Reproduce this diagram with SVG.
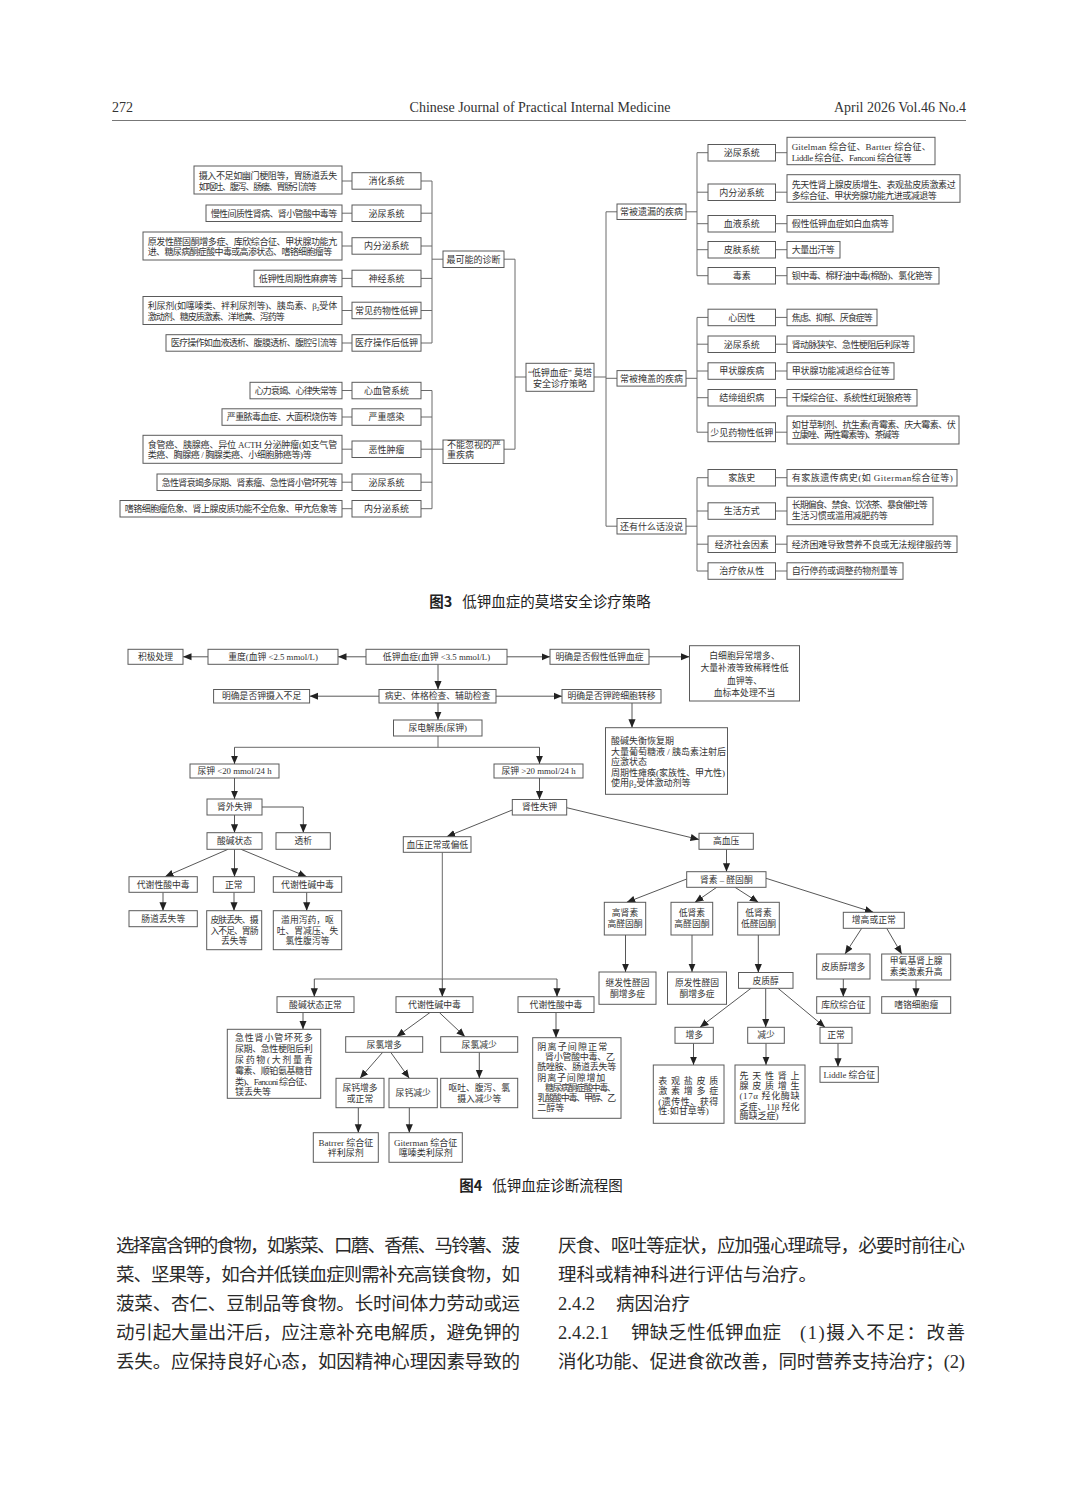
<svg xmlns="http://www.w3.org/2000/svg" width="1080" height="1509" viewBox="0 0 1080 1509">
<defs>
<marker id="ah" viewBox="0 0 10 10" refX="10" refY="5" markerWidth="8.5" markerHeight="8.5" markerUnits="userSpaceOnUse" orient="auto"><path d="M0,0.8 L10,5 L0,9.2 z" fill="#222"/></marker>
<style>
.b{fill:#fff;stroke:#5a5a5a;stroke-width:1}
.t{font-family:"Liberation Serif","Noto Sans CJK SC",serif;font-size:9px;fill:#333}
.s{font-size:8.8px}
.m{text-anchor:middle}
.ln{fill:none;stroke:#6a6a6a;stroke-width:1}
.ar{fill:none;stroke:#444;stroke-width:0.9;marker-end:url(#ah)}
.hd{font-family:"Liberation Serif",serif;font-size:14px;fill:#333}
.cap{font-family:"Noto Sans CJK SC",sans-serif;font-size:14.5px;fill:#222}
.body{font-family:"Liberation Serif","Noto Sans CJK SC",serif;font-size:18.5px;fill:#2a2a2a}
</style>
</defs>
<rect width="1080" height="1509" fill="#fff"/>

<g id="header">
<text class="hd" x="112" y="112">272</text>
<text class="hd m" x="540" y="112" font-size="13.5">Chinese Journal of Practical Internal Medicine</text>
<text class="hd" x="966" y="112" text-anchor="end">April 2026 Vol.46 No.4</text>
<line x1="112" y1="120.5" x2="966" y2="120.5" stroke="#777" stroke-width="1"/>
</g>

<!-- ================= FIGURE 3 ================= -->
<g id="fig3-connectors" class="ln">
<path d="M342,181H352M421,181H432M342,213.2H352M421,213.2H432M342,246H352M421,246H432M342,278.4H352M421,278.4H432M342,310.5H352M421,310.5H432M342,343H352M421,343H432"/>
<path d="M342,390.5H352M421,390.5H432M342,417H352M421,417H432M342,449.2H352M421,449.2H432M342,482.2H352M421,482.2H432M342,508.7H352M421,508.7H432"/>
<path d="M432,181V343M432,259.2H443M504,259.2H515V449.2H504M443,449.2H432M432,390.5V508.7M515,377H526M594,377H606"/>
<path d="M606,211.8V526.2M606,211.8H617M606,378.3H617M606,526.2H617M686,211.8H697M686,378.3H697M686,526.2H697M697,152.7V275.7M697,317.4V432.2M697,477.7V571"/>
<path d="M697,152.7H708M775.5,152.7H787M697,192.2H708M775.5,192.2H787M697,223.7H708M775.5,223.7H787M697,249.7H708M775.5,249.7H787M697,275.7H708M775.5,275.7H787"/>
<path d="M697,317.4H708M775.5,317.4H787M697,344.2H708M775.5,344.2H787M697,371H708M775.5,371H787M697,397.7H708M775.5,397.7H787M697,432.2H708M775.5,432.2H787"/>
<path d="M697,477.7H708M775.5,477.7H787M697,511H708M775.5,511H787M697,544.2H708M775.5,544.2H787M697,571H708M775.5,571H787"/>
</g>

<g id="f3-root"><rect class="b" x="526" y="363.3" width="68" height="28"/><text class="t m" x="560" y="375.8">“低钾血症” 莫塔</text><text class="t m" x="560" y="386.5">安全诊疗策略</text></g>
<g id="f3-likely"><rect class="b" x="443" y="251" width="61" height="16.5"/><text class="t m" x="473.5" y="262.5">最可能的诊断</text></g>
<g id="f3-serious"><rect class="b" x="443" y="440" width="61" height="23.5"/><text class="t" x="447" y="447.8">不能忽视的严</text><text class="t" x="447" y="458">重疾病</text></g>
<g id="f3-missed"><rect class="b" x="617" y="204" width="69" height="15.5"/><text class="t m" x="651.5" y="215">常被遗漏的疾病</text></g>
<g id="f3-masked"><rect class="b" x="617" y="370.6" width="69" height="15.5"/><text class="t m" x="651.5" y="381.5">常被掩盖的疾病</text></g>
<g id="f3-other"><rect class="b" x="617" y="518.5" width="69" height="15.5"/><text class="t m" x="651.5" y="529.5">还有什么话没说</text></g>

<!-- left labels -->
<g id="f3-l1"><rect class="b" x="352" y="172.7" width="69" height="16.5"/><text class="t m" x="386.5" y="184.3">消化系统</text></g>
<g id="f3-l2"><rect class="b" x="352" y="205" width="69" height="16.5"/><text class="t m" x="386.5" y="216.5">泌尿系统</text></g>
<g id="f3-l3"><rect class="b" x="352" y="237.7" width="69" height="16.5"/><text class="t m" x="386.5" y="249.3">内分泌系统</text></g>
<g id="f3-l4"><rect class="b" x="352" y="270.2" width="69" height="16.5"/><text class="t m" x="386.5" y="281.7">神经系统</text></g>
<g id="f3-l5"><rect class="b" x="352" y="302.2" width="69" height="16.5"/><text class="t m" x="386.5" y="313.8">常见药物性低钾</text></g>
<g id="f3-l6"><rect class="b" x="352" y="334.7" width="69" height="16.5"/><text class="t m" x="386.5" y="346.3">医疗操作后低钾</text></g>
<g id="f3-l7"><rect class="b" x="352" y="382.3" width="69" height="16.5"/><text class="t m" x="386.5" y="393.8">心血管系统</text></g>
<g id="f3-l8"><rect class="b" x="352" y="408.8" width="69" height="16.5"/><text class="t m" x="386.5" y="420.3">严重感染</text></g>
<g id="f3-l9"><rect class="b" x="352" y="441" width="69" height="16.5"/><text class="t m" x="386.5" y="452.5">恶性肿瘤</text></g>
<g id="f3-l10"><rect class="b" x="352" y="474" width="69" height="16.5"/><text class="t m" x="386.5" y="485.5">泌尿系统</text></g>
<g id="f3-l11"><rect class="b" x="352" y="500.5" width="69" height="16.5"/><text class="t m" x="386.5" y="512">内分泌系统</text></g>

<!-- left details -->
<g id="f3-d1"><rect class="b" x="194" y="166" width="148" height="28"/><text class="t" x="198.7" y="179.3" textLength="138.5" lengthAdjust="spacing">摄入不足如幽门梗阻等，胃肠道丢失</text><text class="t" x="198.7" y="190" textLength="118" lengthAdjust="spacing">如呕吐、腹泻、肠瘘、胃肠引流等</text></g>
<g id="f3-d2"><rect class="b" x="206" y="205" width="136" height="16.5"/><text class="t" x="210.7" y="216.5" textLength="126.5" lengthAdjust="spacing">慢性间质性肾病、肾小管酸中毒等</text></g>
<g id="f3-d3"><rect class="b" x="143" y="232" width="199" height="28"/><text class="t" x="147.7" y="245" textLength="189.5" lengthAdjust="spacing">原发性醛固酮增多症、库欣综合征、甲状腺功能亢</text><text class="t" x="147.7" y="254.6" textLength="184.5" lengthAdjust="spacing">进、糖尿病酮症酸中毒或高渗状态、嗜铬细胞瘤等</text></g>
<g id="f3-d4"><rect class="b" x="254" y="270.2" width="88" height="16.5"/><text class="t" x="258.7" y="281.7" textLength="78.5" lengthAdjust="spacing">低钾性周期性麻痹等</text></g>
<g id="f3-d5"><rect class="b" x="143" y="296.5" width="199" height="28"/><text class="t" x="147.7" y="309.3" textLength="189.5" lengthAdjust="spacing">利尿剂(如噻嗪类、袢利尿剂等)、胰岛素、β<tspan font-size="6" dy="2">2</tspan><tspan dy="-2">受体</tspan></text><text class="t" x="147.7" y="320" textLength="137" lengthAdjust="spacing">激动剂、糖皮质激素、洋地黄、泻药等</text></g>
<g id="f3-d6"><rect class="b" x="166" y="334.7" width="176" height="16.5"/><text class="t" x="170.7" y="346.3" textLength="166.5" lengthAdjust="spacing">医疗操作如血液透析、腹膜透析、腹腔引流等</text></g>
<g id="f3-d7"><rect class="b" x="250" y="382.3" width="92" height="16.5"/><text class="t" x="254.7" y="393.8" textLength="82.5" lengthAdjust="spacing">心力衰竭、心律失常等</text></g>
<g id="f3-d8"><rect class="b" x="222" y="408.8" width="120" height="16.5"/><text class="t" x="226.7" y="420.3" textLength="110.5" lengthAdjust="spacing">严重脓毒血症、大面积烧伤等</text></g>
<g id="f3-d9"><rect class="b" x="143" y="435.3" width="199" height="28"/><text class="t" x="147.7" y="448.3" textLength="189.5" lengthAdjust="spacing">食管癌、胰腺癌、异位 ACTH 分泌肿瘤(如支气管</text><text class="t" x="147.7" y="458.3" textLength="164" lengthAdjust="spacing">类癌、胸腺癌 / 胸腺类癌、小细胞肺癌等)等</text></g>
<g id="f3-d10"><rect class="b" x="157" y="474" width="185" height="16.5"/><text class="t" x="161.7" y="485.5" textLength="175.5" lengthAdjust="spacing">急性肾衰竭多尿期、肾素瘤、急性肾小管坏死等</text></g>
<g id="f3-d11"><rect class="b" x="120" y="500.5" width="222" height="16.5"/><text class="t" x="124.7" y="512" textLength="212.5" lengthAdjust="spacing">嗜铬细胞瘤危象、肾上腺皮质功能不全危象、甲亢危象等</text></g>

<!-- right labels -->
<g id="f3-ra"><rect class="b" x="708" y="144.5" width="67.5" height="16.5"/><text class="t m" x="741.7" y="156">泌尿系统</text></g>
<g id="f3-rb"><rect class="b" x="708" y="184" width="67.5" height="16.5"/><text class="t m" x="741.7" y="195.5">内分泌系统</text></g>
<g id="f3-rc"><rect class="b" x="708" y="215.5" width="67.5" height="16.5"/><text class="t m" x="741.7" y="227">血液系统</text></g>
<g id="f3-rd"><rect class="b" x="708" y="241.5" width="67.5" height="16.5"/><text class="t m" x="741.7" y="253">皮肤系统</text></g>
<g id="f3-re"><rect class="b" x="708" y="267.5" width="67.5" height="16.5"/><text class="t m" x="741.7" y="279">毒素</text></g>
<g id="f3-rf"><rect class="b" x="708" y="309.2" width="67.5" height="16.5"/><text class="t m" x="741.7" y="320.7">心因性</text></g>
<g id="f3-rg"><rect class="b" x="708" y="336" width="67.5" height="16.5"/><text class="t m" x="741.7" y="347.5">泌尿系统</text></g>
<g id="f3-rh"><rect class="b" x="708" y="362.8" width="67.5" height="16.5"/><text class="t m" x="741.7" y="374.3">甲状腺疾病</text></g>
<g id="f3-ri"><rect class="b" x="708" y="389.5" width="67.5" height="16.5"/><text class="t m" x="741.7" y="401">结缔组织病</text></g>
<g id="f3-rj"><rect class="b" x="708" y="422.7" width="67.5" height="19"/><text class="t m" x="741.7" y="435.5">少见药物性低钾</text></g>
<g id="f3-rk"><rect class="b" x="708" y="469.5" width="67.5" height="16.5"/><text class="t m" x="741.7" y="481">家族史</text></g>
<g id="f3-rl"><rect class="b" x="708" y="502.8" width="67.5" height="16.5"/><text class="t m" x="741.7" y="514.3">生活方式</text></g>
<g id="f3-rm"><rect class="b" x="708" y="536" width="67.5" height="16.5"/><text class="t m" x="741.7" y="547.5">经济社会因素</text></g>
<g id="f3-rn"><rect class="b" x="708" y="562.8" width="67.5" height="16.5"/><text class="t m" x="741.7" y="574.3">治疗依从性</text></g>

<!-- right details -->
<g id="f3-da"><rect class="b" x="787" y="137.3" width="148" height="27.4"/><text class="t" x="791.7" y="150" textLength="139" lengthAdjust="spacing">Gitelman 综合征、Bartter 综合征、</text><text class="t" x="791.7" y="161" textLength="120" lengthAdjust="spacing">Liddle 综合征、Fanconi 综合征等</text></g>
<g id="f3-db"><rect class="b" x="787" y="174.7" width="173" height="27.6"/><text class="t" x="791.7" y="188.3" textLength="164" lengthAdjust="spacing">先天性肾上腺皮质增生、表观盐皮质激素过</text><text class="t" x="791.7" y="198.6" textLength="145" lengthAdjust="spacing">多综合征、甲状旁腺功能亢进或减退等</text></g>
<g id="f3-dc"><rect class="b" x="787" y="215.5" width="106" height="16.5"/><text class="t" x="791.7" y="227" textLength="97" lengthAdjust="spacing">假性低钾血症如白血病等</text></g>
<g id="f3-dd"><rect class="b" x="787" y="241.5" width="53" height="16.5"/><text class="t" x="791.7" y="253" textLength="43" lengthAdjust="spacing">大量出汗等</text></g>
<g id="f3-de"><rect class="b" x="787" y="267.5" width="152" height="16.5"/><text class="t" x="791.7" y="279" textLength="141" lengthAdjust="spacing">钡中毒、棉籽油中毒(棉酚)、氯化铯等</text></g>
<g id="f3-df"><rect class="b" x="787" y="309.2" width="90" height="16.5"/><text class="t" x="791.7" y="320.7" textLength="81" lengthAdjust="spacing">焦虑、抑郁、厌食症等</text></g>
<g id="f3-dg"><rect class="b" x="787" y="336" width="127" height="16.5"/><text class="t" x="791.7" y="347.5" textLength="118" lengthAdjust="spacing">肾动脉狭窄、急性梗阻后利尿等</text></g>
<g id="f3-dh"><rect class="b" x="787" y="362.8" width="107" height="16.5"/><text class="t" x="791.7" y="374.3" textLength="98" lengthAdjust="spacing">甲状腺功能减退综合征等</text></g>
<g id="f3-di"><rect class="b" x="787" y="389.5" width="130" height="16.5"/><text class="t" x="791.7" y="401" textLength="120" lengthAdjust="spacing">干燥综合征、系统性红斑狼疮等</text></g>
<g id="f3-dj"><rect class="b" x="787" y="416" width="172" height="28"/><text class="t" x="791.7" y="428.3" textLength="164" lengthAdjust="spacing">如甘草制剂、抗生素(青霉素、庆大霉素、伏</text><text class="t" x="791.7" y="438.3" textLength="108" lengthAdjust="spacing">立康唑、两性霉素等)、茶碱等</text></g>
<g id="f3-dk"><rect class="b" x="787" y="469.5" width="170" height="16.5"/><text class="t" x="791.7" y="481" textLength="161" lengthAdjust="spacing">有家族遗传病史(如 Giterman综合征等)</text></g>
<g id="f3-dl"><rect class="b" x="787" y="497.3" width="146" height="27.4"/><text class="t" x="791.7" y="508.3" textLength="136" lengthAdjust="spacing">长期偏食、禁食、饮浓茶、暴食催吐等</text><text class="t" x="791.7" y="519.3" textLength="96" lengthAdjust="spacing">生活习惯或滥用减肥药等</text></g>
<g id="f3-dm"><rect class="b" x="787" y="536" width="170" height="16.5"/><text class="t" x="791.7" y="547.5" textLength="160" lengthAdjust="spacing">经济困难导致营养不良或无法规律服药等</text></g>
<g id="f3-dn"><rect class="b" x="787" y="562.8" width="116" height="16.5"/><text class="t" x="791.7" y="574.3" textLength="106" lengthAdjust="spacing">自行停药或调整药物剂量等</text></g>

<text class="cap" x="540" y="607" text-anchor="middle"><tspan font-weight="bold">图3</tspan><tspan dx="10">低钾血症的莫塔安全诊疗策略</tspan></text>

<!-- ================= FIGURE 4 ================= -->
<g id="fig4-connectors">
<path class="ln" d="M438,736V747.3M234.5,747.3H539.5M442.3,852.3V979M314.3,979H557"/>
<path class="ar" d="M366,656.8H338"/>
<path class="ar" d="M208,656.8H183"/>
<path class="ar" d="M507,656.8H550"/>
<path class="ar" d="M649,656.8H689.5"/>
<path class="ar" d="M438,664.3V689.5"/>
<path class="ar" d="M379,696.2H309.6"/>
<path class="ar" d="M496,696.2H562"/>
<path class="ar" d="M438,703V720"/>
<path class="ar" d="M632,703V727.7"/>
<path class="ar" d="M234.5,747.3V764"/>
<path class="ar" d="M539.5,747.3V764"/>
<path class="ar" d="M234.5,778V799"/>
<path class="ar" d="M539.5,778V799.5"/>
<path class="ar" d="M262,807H303.3V832.7"/>
<path class="ar" d="M234.5,815V832.7"/>
<path class="ar" d="M228,849.3L165,876.7"/>
<path class="ar" d="M234.5,849.3V876.7"/>
<path class="ar" d="M241,849.3L306.7,876.7"/>
<path class="ar" d="M163,892.3V910.7"/>
<path class="ar" d="M234,892.3V910.7"/>
<path class="ar" d="M306.7,892.3V910.7"/>
<path class="ar" d="M512.3,810L446.7,836.7"/>
<path class="ar" d="M566.7,807.7L699,839.5"/>
<path class="ar" d="M442.3,979V996.7"/>
<path class="ar" d="M314.3,979V996.7"/>
<path class="ar" d="M557,979V996.7"/>
<path class="ar" d="M726.5,849.3V871.7"/>
<path class="ar" d="M686.7,879L626.7,902.3"/>
<path class="ar" d="M716.7,887.3L695,902.3"/>
<path class="ar" d="M735,887.3L758.3,902.3"/>
<path class="ar" d="M766,878.3L873.3,912.3"/>
<path class="ar" d="M625.5,935V972"/>
<path class="ar" d="M692,935V972"/>
<path class="ar" d="M758.3,935V972.5"/>
<path class="ar" d="M861.7,928.3L845,954"/>
<path class="ar" d="M886.7,928.3L901.7,954"/>
<path class="ar" d="M843.3,979V996.7"/>
<path class="ar" d="M916,980V996.7"/>
<path class="ar" d="M751,988.3L700,1027.3"/>
<path class="ar" d="M765.7,988.3V1027.3"/>
<path class="ar" d="M778,988.3L825,1027.3"/>
<path class="ar" d="M693.5,1043.3V1065"/>
<path class="ar" d="M766,1043.3V1065"/>
<path class="ar" d="M838,1043.3V1066.7"/>
<path class="ar" d="M556,1012.5V1037.7"/>
<path class="ar" d="M303,1012.5V1029.3"/>
<path class="ar" d="M430,1012.5L396.7,1036.7"/>
<path class="ar" d="M439.3,1012.5L465,1036.7"/>
<path class="ar" d="M382.7,1052.3L360,1078.3"/>
<path class="ar" d="M390.7,1052.3L409.3,1078.3"/>
<path class="ar" d="M479.3,1052.3V1078.3"/>
<path class="ar" d="M358.3,1107.7V1132.7"/>
<path class="ar" d="M409.3,1107.7V1132.7"/>
</g>

<g id="n1"><rect class="b" x="128" y="649.3" width="55" height="15"/><text class="t s m" x="155.5" y="659.9">积极处理</text></g>
<g id="n2"><rect class="b" x="208" y="649.3" width="130" height="15"/><text class="t s m" x="273" y="659.9">重度(血钾 &lt;2.5 mmol/L)</text></g>
<g id="n3"><rect class="b" x="366" y="649.3" width="141" height="15"/><text class="t s m" x="436.5" y="659.9">低钾血症(血钾 &lt;3.5 mmol/L)</text></g>
<g id="n4"><rect class="b" x="550" y="649.3" width="99" height="15"/><text class="t s m" x="599.5" y="659.9">明确是否假性低钾血症</text></g>
<g id="n5"><rect class="b" x="689.5" y="645.7" width="110" height="55.3"/><text class="t s m" x="744.5" y="658.8">白细胞异常增多、</text><text class="t s m" x="744.5" y="671.4">大量补液等致稀释性低</text><text class="t s m" x="744.5" y="683.8">血钾等、</text><text class="t s m" x="744.5" y="696.4">血标本处理不当</text></g>
<g id="n6"><rect class="b" x="213.6" y="689.5" width="96" height="13.5"/><text class="t s m" x="261.6" y="699.3">明确是否钾摄入不足</text></g>
<g id="n7"><rect class="b" x="379" y="689.5" width="117" height="13.5"/><text class="t s m" x="437.5" y="699.3">病史、体格检查、辅助检查</text></g>
<g id="n8"><rect class="b" x="562" y="689.5" width="99" height="13.5"/><text class="t s m" x="611.5" y="699.3">明确是否钾跨细胞转移</text></g>
<g id="n9"><rect class="b" x="393.5" y="720" width="88.5" height="16"/><text class="t s m" x="437.7" y="731.1">尿电解质(尿钾)</text></g>
<g id="n10"><rect class="b" x="605.5" y="727.7" width="122" height="66.6"/><text class="t" font-size="8.5" x="611" y="744.1">酸碱失衡恢复期</text><text class="t" font-size="8.5" x="611" y="754.6">大量葡萄糖液 / 胰岛素注射后</text><text class="t" font-size="8.5" x="611" y="765.1">应激状态</text><text class="t" font-size="8.5" x="611" y="775.6">周期性瘫痪(家族性、甲亢性)</text><text class="t" font-size="8.5" x="611" y="786.1">使用β<tspan font-size="6" dy="2">2</tspan><tspan dy="-2">受体激动剂等</tspan></text></g>
<g id="n11"><rect class="b" x="190" y="764" width="89" height="14"/><text class="t s m" x="234.5" y="774.1">尿钾 &lt;20 mmol/24 h</text></g>
<g id="n12"><rect class="b" x="494" y="764" width="89" height="14"/><text class="t s m" x="538.5" y="774.1">尿钾 &gt;20 mmol/24 h</text></g>
<g id="n13"><rect class="b" x="207" y="799" width="55" height="16"/><text class="t s m" x="234.5" y="810.1">肾外失钾</text></g>
<g id="n14"><rect class="b" x="512.3" y="799.5" width="54.4" height="15.5"/><text class="t s m" x="539.5" y="810.3">肾性失钾</text></g>
<g id="n15"><rect class="b" x="207" y="832.7" width="55" height="16.6"/><text class="t s m" x="234.5" y="844.1">酸碱状态</text></g>
<g id="n16"><rect class="b" x="276" y="832.7" width="54.3" height="16.6"/><text class="t s m" x="303.2" y="844.1">透析</text></g>
<g id="n17"><rect class="b" x="129" y="876.7" width="68.3" height="15.6"/><text class="t s m" x="163.2" y="887.6">代谢性酸中毒</text></g>
<g id="n18"><rect class="b" x="213.3" y="876.7" width="41" height="15.6"/><text class="t s m" x="233.8" y="887.6">正常</text></g>
<g id="n19"><rect class="b" x="273.3" y="876.7" width="68.4" height="15.6"/><text class="t s m" x="307.5" y="887.6">代谢性碱中毒</text></g>
<g id="n20"><rect class="b" x="129" y="910.7" width="68.3" height="16"/><text class="t s m" x="163.2" y="921.8">肠道丢失等</text></g>
<g id="n21"><rect class="b" x="206.7" y="910.7" width="55" height="39"/><text class="t s" x="210.5" y="923.1" textLength="48" lengthAdjust="spacing">皮肤丢失、摄</text><text class="t s" x="210.5" y="933.8" textLength="48" lengthAdjust="spacing">入不足、胃肠</text><text class="t s m" x="234.2" y="944.1">丢失等</text></g>
<g id="n22"><rect class="b" x="273.3" y="910.7" width="68.4" height="39"/><text class="t s m" x="307.5" y="923.1">滥用泻药，呕</text><text class="t s m" x="307.5" y="933.8">吐、胃减压、失</text><text class="t s m" x="307.5" y="944.1">氯性腹泻等</text></g>
<g id="n23"><rect class="b" x="403.3" y="836.7" width="67.7" height="15.6"/><text class="t s m" x="437.2" y="847.6">血压正常或偏低</text></g>
<g id="n24"><rect class="b" x="699" y="833.3" width="54.3" height="16"/><text class="t s m" x="726.2" y="844.4">高血压</text></g>
<g id="n25"><rect class="b" x="686.7" y="871.7" width="79.3" height="15.6"/><text class="t s m" x="726.3" y="882.6">肾素 – 醛固酮</text></g>
<g id="n26"><rect class="b" x="604.3" y="902.3" width="41.4" height="32.7"/><text class="t s m" x="625" y="916.4">高肾素</text><text class="t s m" x="625" y="926.8">高醛固酮</text></g>
<g id="n27"><rect class="b" x="671" y="902.3" width="41.7" height="32.7"/><text class="t s m" x="691.9" y="916.4">低肾素</text><text class="t s m" x="691.9" y="926.8">高醛固酮</text></g>
<g id="n28"><rect class="b" x="737.7" y="902.3" width="41.6" height="32.7"/><text class="t s m" x="758.5" y="916.4">低肾素</text><text class="t s m" x="758.5" y="926.8">低醛固酮</text></g>
<g id="n29"><rect class="b" x="843.3" y="912.3" width="61" height="16"/><text class="t s m" x="873.8" y="923.4">增高或正常</text></g>
<g id="n30"><rect class="b" x="599" y="972" width="57" height="32.3"/><text class="t s m" x="627.5" y="986.4">继发性醛固</text><text class="t s m" x="627.5" y="997.1">酮增多症</text></g>
<g id="n31"><rect class="b" x="667.5" y="972" width="59" height="32.3"/><text class="t s m" x="697" y="986.4">原发性醛固</text><text class="t s m" x="697" y="997.1">酮增多症</text></g>
<g id="n32"><rect class="b" x="738.5" y="972.5" width="54.5" height="15.8"/><text class="t s m" x="765.7" y="983.5">皮质醇</text></g>
<g id="n33"><rect class="b" x="816.7" y="954" width="53.3" height="25"/><text class="t s m" x="843.3" y="969.6">皮质醇增多</text></g>
<g id="n34"><rect class="b" x="881.7" y="954" width="69" height="26"/><text class="t s m" x="916.2" y="964.1">甲氧基肾上腺</text><text class="t s m" x="916.2" y="974.8">素类激素升高</text></g>
<g id="n35"><rect class="b" x="816.7" y="996.7" width="53.3" height="16.6"/><text class="t s m" x="843.3" y="1008.1">库欣综合征</text></g>
<g id="n36"><rect class="b" x="881.7" y="996.7" width="69" height="16.6"/><text class="t s m" x="916.2" y="1008.1">嗜铬细胞瘤</text></g>
<g id="n37"><rect class="b" x="277" y="996.7" width="77" height="15.8"/><text class="t s m" x="315.5" y="1007.7">酸碱状态正常</text></g>
<g id="n38"><rect class="b" x="396" y="996.7" width="77" height="15.8"/><text class="t s m" x="434.5" y="1007.7">代谢性碱中毒</text></g>
<g id="n39"><rect class="b" x="518" y="996.7" width="76" height="15.8"/><text class="t s m" x="556" y="1007.7">代谢性酸中毒</text></g>
<g id="n40"><rect class="b" x="227.3" y="1029.3" width="93.4" height="69"/><text class="t" font-size="8.5" x="235" y="1040.8" textLength="77.7" lengthAdjust="spacing">急性肾小管坏死多</text><text class="t" font-size="8.5" x="235" y="1051.8" textLength="77.7" lengthAdjust="spacing">尿期、急性梗阻后利</text><text class="t" font-size="8.5" x="235" y="1062.8" textLength="77.7" lengthAdjust="spacing">尿药物(大剂量青</text><text class="t" font-size="8.5" x="235" y="1073.8" textLength="77.7" lengthAdjust="spacing">霉素、顺铂氨基糖苷</text><text class="t" font-size="8.5" x="235" y="1084.8" textLength="77.7" lengthAdjust="spacing">类)、Fanconi 综合征、</text><text class="t" font-size="8.5" x="235" y="1095.4">镁丢失等</text></g>
<g id="n41"><rect class="b" x="345.7" y="1036.7" width="77" height="15.6"/><text class="t s m" x="384.2" y="1047.6">尿氯增多</text></g>
<g id="n42"><rect class="b" x="440.7" y="1036.7" width="77" height="15.6"/><text class="t s m" x="479.2" y="1047.6">尿氯减少</text></g>
<g id="n43"><rect class="b" x="336" y="1078.3" width="48" height="29.4"/><text class="t s m" x="360" y="1091.4">尿钙增多</text><text class="t s m" x="360" y="1101.6">或正常</text></g>
<g id="n44"><rect class="b" x="389" y="1078.3" width="48.3" height="29.4"/><text class="t s m" x="413.2" y="1096.1">尿钙减少</text></g>
<g id="n45"><rect class="b" x="440.7" y="1078.3" width="77" height="29.4"/><text class="t s m" x="479.2" y="1091.4">呕吐、腹泻、氯</text><text class="t s m" x="479.2" y="1101.6">摄入减少等</text></g>
<g id="n46"><rect class="b" x="313.3" y="1132.7" width="65" height="29.6"/><text class="t m" font-size="8" x="345.8" y="1145.8">Batrrer 综合征</text><text class="t m" font-size="8" x="345.8" y="1156.4">袢利尿剂</text></g>
<g id="n47"><rect class="b" x="389" y="1132.7" width="73.3" height="29.6"/><text class="t m" font-size="8" x="425.7" y="1145.8">Giterman 综合征</text><text class="t m" font-size="8" x="425.7" y="1156.4">噻嗪类利尿剂</text></g>
<g id="n48"><rect class="b" x="532.7" y="1037.7" width="88.3" height="80.6"/><text class="t" font-size="9.5" x="537.3" y="1050.3" textLength="70" lengthAdjust="spacing">阴离子间隙正常</text><text class="t" font-size="7.8" x="545" y="1060.3" textLength="70" lengthAdjust="spacing">肾小管酸中毒、乙</text><text class="t" font-size="7.8" x="537.3" y="1069.8" textLength="79" lengthAdjust="spacing">酰唑胺、肠道丢失等</text><text class="t" font-size="9.5" x="537.3" y="1081.3" textLength="68" lengthAdjust="spacing">阴离子间隙增加</text><text class="t" font-size="7.8" x="545" y="1091.3" textLength="71" lengthAdjust="spacing">糖尿病酮症酸中毒、</text><text class="t" font-size="7.8" x="537.3" y="1100.8" textLength="79" lengthAdjust="spacing">乳酸酸中毒、甲醇、乙</text><text class="t" font-size="7.8" x="537.3" y="1110.6">二醇等</text></g>
<g id="n49"><rect class="b" x="675" y="1027.3" width="38.3" height="16"/><text class="t s m" x="694.2" y="1038.4">增多</text></g>
<g id="n50"><rect class="b" x="747.7" y="1027.3" width="36.6" height="16"/><text class="t s m" x="766" y="1038.4">减少</text></g>
<g id="n51"><rect class="b" x="820" y="1027.3" width="32" height="16"/><text class="t s m" x="836" y="1038.4">正常</text></g>
<g id="n52"><rect class="b" x="653.3" y="1065" width="70.7" height="58.3"/><text class="t" font-size="10.5" x="658.3" y="1083.7" textLength="60" lengthAdjust="spacing">表观盐皮质</text><text class="t" font-size="10.5" x="658.3" y="1094.4" textLength="60" lengthAdjust="spacing">激素增多症</text><text class="t" font-size="8.5" x="658.3" y="1104.6" textLength="60" lengthAdjust="spacing">(遗传性、获得</text><text class="t" font-size="8.5" x="658.3" y="1114">性:如甘草等)</text></g>
<g id="n53"><rect class="b" x="735" y="1065" width="70" height="58.3"/><text class="t" font-size="10.5" x="739.5" y="1078.7" textLength="60" lengthAdjust="spacing">先天性肾上</text><text class="t" font-size="10.5" x="739.5" y="1089.4" textLength="60" lengthAdjust="spacing">腺皮质增生</text><text class="t" font-size="8.5" x="739.5" y="1099.3" textLength="60" lengthAdjust="spacing">(17α 羟化酶缺</text><text class="t" font-size="8.5" x="739.5" y="1109.6" textLength="60" lengthAdjust="spacing">乏症、11β 羟化</text><text class="t" font-size="8.5" x="739.5" y="1119.3">酶缺乏症)</text></g>
<g id="n54"><rect class="b" x="820" y="1066.7" width="58.3" height="15.6"/><text class="t s m" x="849.2" y="1077.6">Liddle 综合征</text></g>

<text class="cap" x="541" y="1191" text-anchor="middle"><tspan font-weight="bold">图4</tspan><tspan dx="10">低钾血症诊断流程图</tspan></text>

<!-- ================= BODY TEXT ================= -->
<g id="body-text">
<text class="body" x="116" y="1252" textLength="404" lengthAdjust="spacing">选择富含钾的食物，如紫菜、口蘑、香蕉、马铃薯、菠</text>
<text class="body" x="116" y="1281" textLength="404" lengthAdjust="spacing">菜、坚果等，如合并低镁血症则需补充高镁食物，如</text>
<text class="body" x="116" y="1310" textLength="404" lengthAdjust="spacing">菠菜、杏仁、豆制品等食物。长时间体力劳动或运</text>
<text class="body" x="116" y="1339" textLength="404" lengthAdjust="spacing">动引起大量出汗后，应注意补充电解质，避免钾的</text>
<text class="body" x="116" y="1368" textLength="404" lengthAdjust="spacing">丢失。应保持良好心态，如因精神心理因素导致的</text>
<text class="body" x="558" y="1252" textLength="407" lengthAdjust="spacing">厌食、呕吐等症状，应加强心理疏导，必要时前往心</text>
<text class="body" x="558" y="1281">理科或精神科进行评估与治疗。</text>
<text class="body" x="558" y="1310">2.4.2</text>
<text class="body" x="616" y="1310">病因治疗</text>
<text class="body" x="558" y="1339">2.4.2.1</text>
<text class="body" x="631" y="1339" textLength="150" lengthAdjust="spacing">钾缺乏性低钾血症</text>
<text class="body" x="800" y="1339" textLength="165" lengthAdjust="spacing">(1)摄入不足：改善</text>
<text class="body" x="558" y="1368" textLength="407" lengthAdjust="spacing">消化功能、促进食欲改善，同时营养支持治疗；(2)</text>
</g>
</svg>
